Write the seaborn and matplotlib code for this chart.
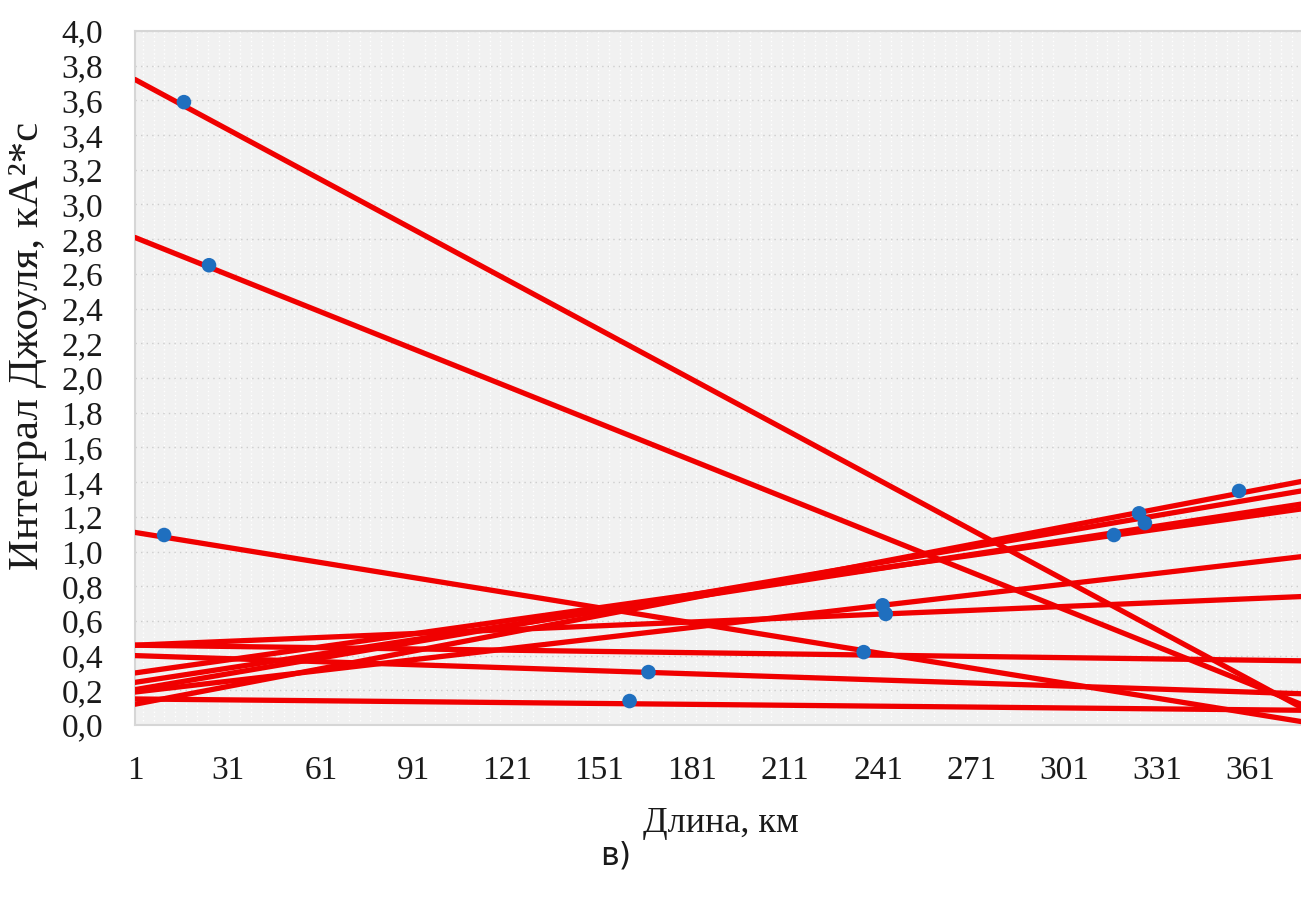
import numpy as np
import pandas as pd
import matplotlib
matplotlib.use("Agg")
import matplotlib.pyplot as plt
from matplotlib.ticker import MultipleLocator, FixedLocator
import seaborn as sns

# Measured points: line length (km) and Joule integral (kA^2*s)
point_km = [16.8, 24.9, 10.4, 166.8, 160.7, 236.3, 242.4, 243.4, 317.1, 325.2, 327.1, 357.5]
point_joule = [3.59, 2.65, 1.095, 0.305, 0.138, 0.42, 0.69, 0.64, 1.095, 1.22, 1.164, 1.349]

# Linear trends y = k*x + b for each case
trend_b = [3.730, 2.817, 1.1129, 0.4006, 0.1502, 0.4602, 0.1879, 0.4593, 0.2975, 0.2008, 0.2429, 0.1164]
trend_k = [-0.00961, -0.007145, -0.002895, -0.000584, -0.0001726, -0.000239,
           0.002072, 0.000744, 0.002510, 0.003041, 0.002729, 0.003409]

x_ticks = [1, 31, 61, 91, 121, 151, 181, 211, 241, 271, 301, 331, 361]
y_ticks = [round(0.2 * i, 1) for i in range(21)]
X_MIN, X_MAX = 1, 377.5

sns.set_theme(style="white")
plt.rcParams["font.family"] = ["Liberation Serif", "DejaVu Serif"]

W, H = 1301, 897
fig = plt.figure(figsize=(W / 100, H / 100), dpi=100)
ax = fig.add_axes([135 / W, (H - 725) / H, (W - 135) / W, (725 - 31) / H])
ax.set_facecolor("#f1f1f1")

rows = []
for i, (b, k) in enumerate(zip(trend_b, trend_k)):
    for x in (X_MIN, X_MAX):
        rows.append({"line": i, "x": x, "y": b + k * x})
lines_df = pd.DataFrame(rows)
pts_df = pd.DataFrame({"x": point_km, "y": point_joule})

sns.lineplot(data=lines_df, x="x", y="y", units="line", estimator=None,
             color="#f00000", linewidth=3.8, ax=ax, zorder=3, legend=False)
sns.scatterplot(data=pts_df, x="x", y="y", color="#1f6fbf", s=110,
                edgecolor="none", ax=ax, zorder=4, legend=False)

ax.set_xlim(X_MIN, X_MAX)
ax.set_ylim(0, 4.0)
ax.xaxis.set_major_locator(FixedLocator(x_ticks))
ax.set_xticklabels([str(v) for v in x_ticks])
ax.yaxis.set_major_locator(FixedLocator(y_ticks))
ax.set_yticklabels([f"{v:.1f}".replace(".", ",") for v in y_ticks])
ax.xaxis.set_minor_locator(MultipleLocator(3.5))

ax.grid(which="major", axis="y", color="#cdcdcd", linestyle=(0, (1, 3)), linewidth=1.0)
ax.grid(which="minor", axis="x", color="#ffffff", linestyle=(0, (1, 2)), linewidth=1.0)
ax.grid(which="major", axis="x", visible=False)
ax.set_axisbelow(True)

for side in ("left", "bottom", "top"):
    ax.spines[side].set_color("#d6d6d6")
    ax.spines[side].set_linewidth(1.5)
ax.spines["right"].set_visible(False)

ax.tick_params(axis="x", which="major", direction="out", length=9, width=1.5,
               color="#cfcfcf", labelsize=24, pad=13, labelcolor="#1a1a1a")
ax.tick_params(axis="x", which="minor", length=0)
ax.tick_params(axis="y", which="major", length=0, labelsize=24, pad=23, labelcolor="#1a1a1a")

ax.set_xlabel("")
ax.set_ylabel("")
fig.text(721 / W, 1 - 823 / H, "Длина, км", ha="center", va="center", fontsize=26, color="#1a1a1a")
fig.text(28 / W, 1 - 346 / H, "Интеграл Джоуля, кА²*с", ha="center", va="center",
         rotation=90, fontsize=31, color="#1a1a1a")
fig.text(616 / W, 1 - 856 / H, "в)", ha="center", va="center", fontsize=23,
         color="#1a1a1a", family=["DejaVu Sans"])

fig.savefig("out.png", dpi=100)
